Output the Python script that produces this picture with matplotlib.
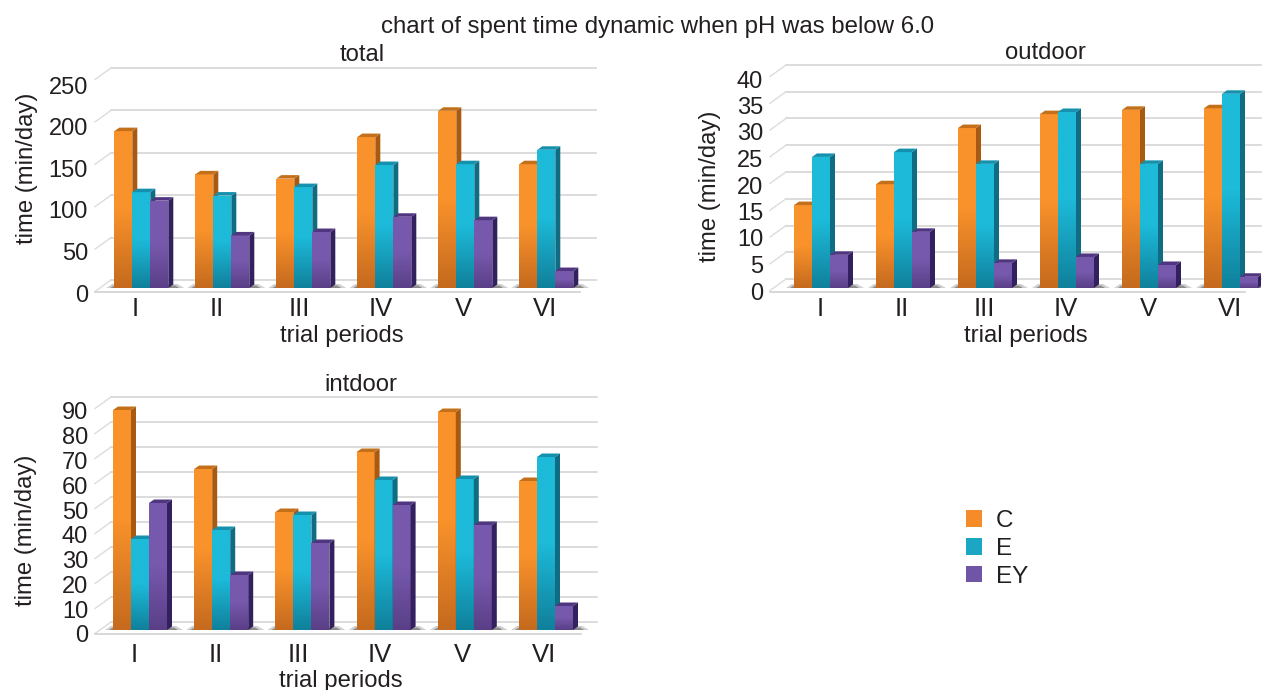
#Chart of spent time dynamic (pseudo 3D bars)

import numpy as np
import matplotlib
matplotlib.use("Agg")
import matplotlib.pyplot as plt
from matplotlib.patches import Patch
from matplotlib.colors import LinearSegmentedColormap

plt.rcParams['font.family'] = ['Liberation Sans', 'DejaVu Sans']

#Data

periods = ["I", "II", "III", "IV", "V", "VI"]
groups = ["C", "E", "EY"]

total_C = [185, 134, 129, 178, 209, 146]
total_E = [113, 109, 119, 145, 146, 163]
total_EY = [103, 62, 66, 84, 80, 20]
total_ticks = [0, 50, 100, 150, 200, 250]

outdoor_C = [15.5, 19.4, 29.9, 32.5, 33.3, 33.6]
outdoor_E = [24.5, 25.4, 23.2, 32.9, 23.2, 36.3]
outdoor_EY = [6.2, 10.5, 4.7, 5.8, 4.3, 2.1]
outdoor_ticks = [0, 5, 10, 15, 20, 25, 30, 35, 40]

intdoor_C = [88, 64.4, 47.2, 71.2, 87.2, 59.6]
intdoor_E = [36.4, 40, 46, 60, 60.4, 69.2]
intdoor_EY = [50.8, 22, 34.8, 50, 42, 9.6]
intdoor_ticks = [0, 10, 20, 30, 40, 50, 60, 70, 80, 90]

#Colours: (top of bar, bottom of bar, side, cap)
colors = [("#F9922B", "#C56A1E", "#A85A12", "#C4701A"),
          ("#1DBAD9", "#10819C", "#0F6C82", "#1591AE"),
          ("#7659AC", "#5A3F88", "#33205F", "#503580")]
legend_colors = ["#F68B2A", "#1BA6C4", "#6F55A5"]
text_color = "#231F20"

W, H = 1269, 690
fig = plt.figure(figsize=(W / 100, H / 100), dpi=100)


def add_axes_px(left, right, top, bottom):
    return fig.add_axes([left / W, 1 - bottom / H, (right - left) / W, (bottom - top) / H])


def put_text(x, y, s, size=17.2, rotation=0):
    fig.text(x / W, 1 - y / H, s, fontsize=size, color=text_color, ha="center", va="center", rotation=rotation)


def panel(series, ticks, title, base, ppu, first, step, left, right,
          label_zero, label_top, label_first, xtick_pad, ylabel_pos, xlabel_pos, title_pos, back=8.0):
    ymax = ticks[-1]
    ax = add_axes_px(left, right, base - ppu * ymax, base)
    ax.set_axis_off()
    xpx = lambda p: (p - first) / step
    ypx = lambda p: p / ppu

    #walls and floor
    x_front0, x_front1 = xpx(left), xpx(right - 16)
    x_back0, x_back1 = xpx(left + 16), xpx(right)
    for t in ticks:
        y = t + ypx(back)
        ax.plot([x_back0, x_back1], [y, y], color="#D6D6D6", lw=1.2, zorder=1, clip_on=False)
        ax.plot([x_front0, x_back0], [y - ypx(11.5), y], color="#DCDCDC", lw=1.0, zorder=1, clip_on=False)
    ax.plot([x_front0, x_front1], [-ypx(3.5), -ypx(3.5)], color="#D6D6D6", lw=1.3, zorder=1.6, clip_on=False)

    #bars
    w = 18.0 / step
    dx, dy = 5.0 / step, ypx(3.5)
    z = 3.0
    for g in range(len(periods)):
        x_left = g - 1.5 * w
        ax.fill([x_left - 8 / step, x_left + 3 * w + 16 / step, x_left + 3 * w + 9 / step, x_left - 2 / step],
                [0, 0, ypx(4), ypx(4)], color="#CFCFCF", lw=0, zorder=2)
        ax.fill([x_left - 4 / step, x_left + 3 * w + 11 / step, x_left + 3 * w + 7 / step, x_left],
                [0, 0, ypx(2.5), ypx(2.5)], color="#8C8C8C", lw=0, zorder=2.1)
        for s, values in enumerate(series):
            top, bottom, side, cap = colors[s]
            h = values[g]
            xc = x_left + s * w
            rect = ax.bar(xc + w / 2, h, width=w, color=top, zorder=z)[0]
            cmap = LinearSegmentedColormap.from_list("bar", [top, top, bottom])
            grad = np.linspace(0, 1, 64).reshape(-1, 1)
            im = ax.imshow(grad, cmap=cmap, aspect="auto", zorder=z + 0.1,
                           extent=(xc, xc + w, 0, h), origin="upper")
            im.set_clip_path(rect)
            ax.fill([xc + w, xc + w + dx, xc + w + dx, xc + w], [0, dy, h + dy, h],
                    color=side, lw=0, zorder=z + 0.2)
            ax.fill([xc, xc + w, xc + w + dx, xc + dx], [h, h, h + dy, h + dy],
                    color=cap, lw=0, zorder=z + 0.2)
            z += 1
    ax.set_xlim(xpx(left), xpx(right))
    ax.set_ylim(0, ymax)

    #tick labels live on a second axes, their scale is a bit tighter than the bars
    lab = add_axes_px(left, right, label_top, label_zero)
    lab.patch.set_alpha(0)
    lab.set_xlim(left, right)
    lab.set_ylim(0, ymax)
    for sp in lab.spines.values():
        sp.set_visible(False)
    lab.set_yticks(ticks)
    lab.set_yticklabels([str(t) for t in ticks], fontsize=17, color=text_color)
    lab.set_xticks([label_first + 82 * i for i in range(len(periods))])
    lab.set_xticklabels(periods, fontsize=18.5, color=text_color)
    lab.tick_params(length=0, pad=5)
    lab.tick_params(axis="x", pad=xtick_pad)

    put_text(ylabel_pos[0], ylabel_pos[1], "time (min/day)", rotation=90)
    put_text(xlabel_pos[0], xlabel_pos[1], "trial periods")
    put_text(title_pos[0], title_pos[1], title)


panel([total_C, total_E, total_EY], total_ticks, "total", 288, 0.848, 141.3, 81,
      95, 596, 293, 85, 135, 3, (27, 168), (342, 336), (362, 55))
panel([outdoor_C, outdoor_E, outdoor_EY], outdoor_ticks, "outdoor", 288, 5.35, 821, 82,
      770, 1261, 291, 79, 820, 4, (710, 186), (1026, 336), (1045, 53), back=9.0)
panel([intdoor_C, intdoor_E, intdoor_EY], intdoor_ticks, "intdoor", 630, 2.5, 140, 81.2,
      95, 597, 634, 411, 134, 6.5, (26, 530), (341, 681), (361, 385))

put_text(658, 27, "chart of spent time dynamic when pH was below 6.0", size=17.3)

handles = [Patch(facecolor=c, edgecolor="none", label=g) for c, g in zip(legend_colors, groups)]
fig.legend(handles=handles, loc="center left", bbox_to_anchor=(944 / W, 1 - 549 / H), frameon=False,
           fontsize=17.5, handlelength=0.66, handleheight=0.66, handletextpad=0.57, labelspacing=0.24,
           labelcolor=text_color)

fig.savefig("out.png", dpi=100, facecolor="white")
